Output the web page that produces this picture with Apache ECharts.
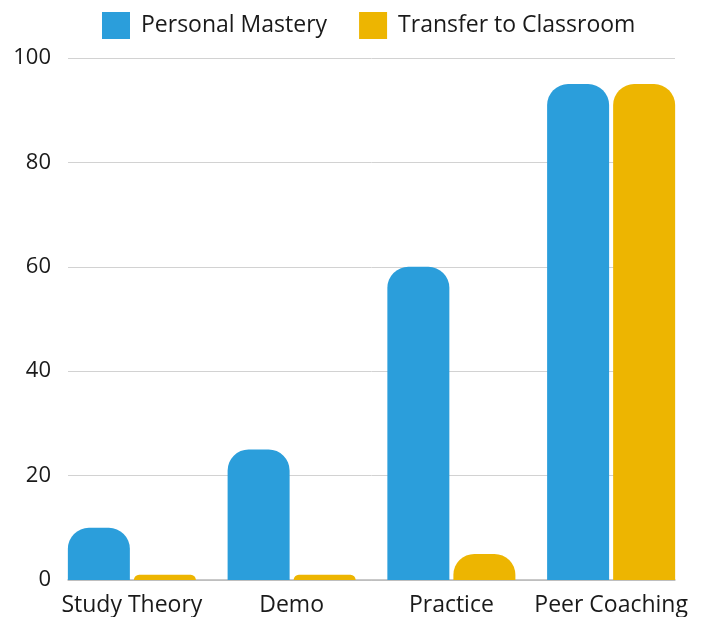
<!DOCTYPE html>
<html>
<head>
<meta charset="utf-8">
<script src="https://cdn.jsdelivr.net/npm/echarts@6/dist/echarts.min.js"></script>
<style>
html,body{margin:0;padding:0;background:#fff;}
#chart{width:702px;height:617px;}
</style>
</head>
<body>
<div id="chart"></div>
<script>
const categories = ["Study Theory", "Demo", "Practice", "Peer Coaching"];
const personalMastery = [10, 25, 60, 95];
const transferToClassroom = [1, 1, 5, 95];
const seriesNames = ["Personal Mastery", "Transfer to Classroom"];
const yTicks = { min: 0, max: 100, interval: 20 };

const FONT = "Open Sans";
const chart = echarts.init(document.getElementById('chart'), null, { renderer: 'canvas' });
chart.setOption({
  animation: false,
  backgroundColor: '#ffffff',
  textStyle: { fontFamily: FONT },
  legend: {
    top: 12,
    left: 102,
    padding: 0,
    itemWidth: 28,
    itemHeight: 27,
    itemGap: 32,
    icon: 'rect',
    textStyle: { fontFamily: FONT, fontSize: 23, color: '#1a1a1a', padding: [0, 0, 0, 6] },
    data: seriesNames
  },
  grid: [
    { left: 68, right: 27, top: 58, bottom: 37 },
    { left: 52, right: 11, top: 58, bottom: 37 }
  ],
  xAxis: [
    {
      type: 'category', gridIndex: 0, data: categories,
      axisLine: { show: true, lineStyle: { color: '#b8b8b8', width: 1.5 } },
      axisTick: { show: false }, axisLabel: { show: false }, splitLine: { show: false }
    },
    {
      type: 'category', gridIndex: 1, data: categories,
      axisLine: { show: false }, axisTick: { show: false },
      axisLabel: { interval: 0, fontFamily: FONT, fontSize: 23, color: '#1a1a1a', margin: 14 }
    }
  ],
  yAxis: [
    {
      type: 'value', gridIndex: 0, min: yTicks.min, max: yTicks.max, interval: yTicks.interval,
      axisLine: { show: false }, axisTick: { show: false },
      axisLabel: { fontFamily: FONT, fontSize: 22, color: '#1a1a1a', margin: 17 },
      splitLine: { show: true, lineStyle: { color: '#d2d2d2', width: 1 } }
    },
    {
      type: 'value', gridIndex: 1, min: yTicks.min, max: yTicks.max, interval: yTicks.interval,
      show: false
    }
  ],
  series: [
    {
      name: seriesNames[0], type: 'bar', xAxisIndex: 1, yAxisIndex: 1,
      data: personalMastery, barWidth: 62, barGap: '6.5%',
      itemStyle: { color: '#2b9edb', borderRadius: [21, 21, 0, 0] }
    },
    {
      name: seriesNames[1], type: 'bar', xAxisIndex: 1, yAxisIndex: 1,
      data: transferToClassroom, barWidth: 62,
      itemStyle: { color: '#edb501', borderRadius: [21, 21, 0, 0] }
    }
  ]
});
</script>
</body>
</html>
